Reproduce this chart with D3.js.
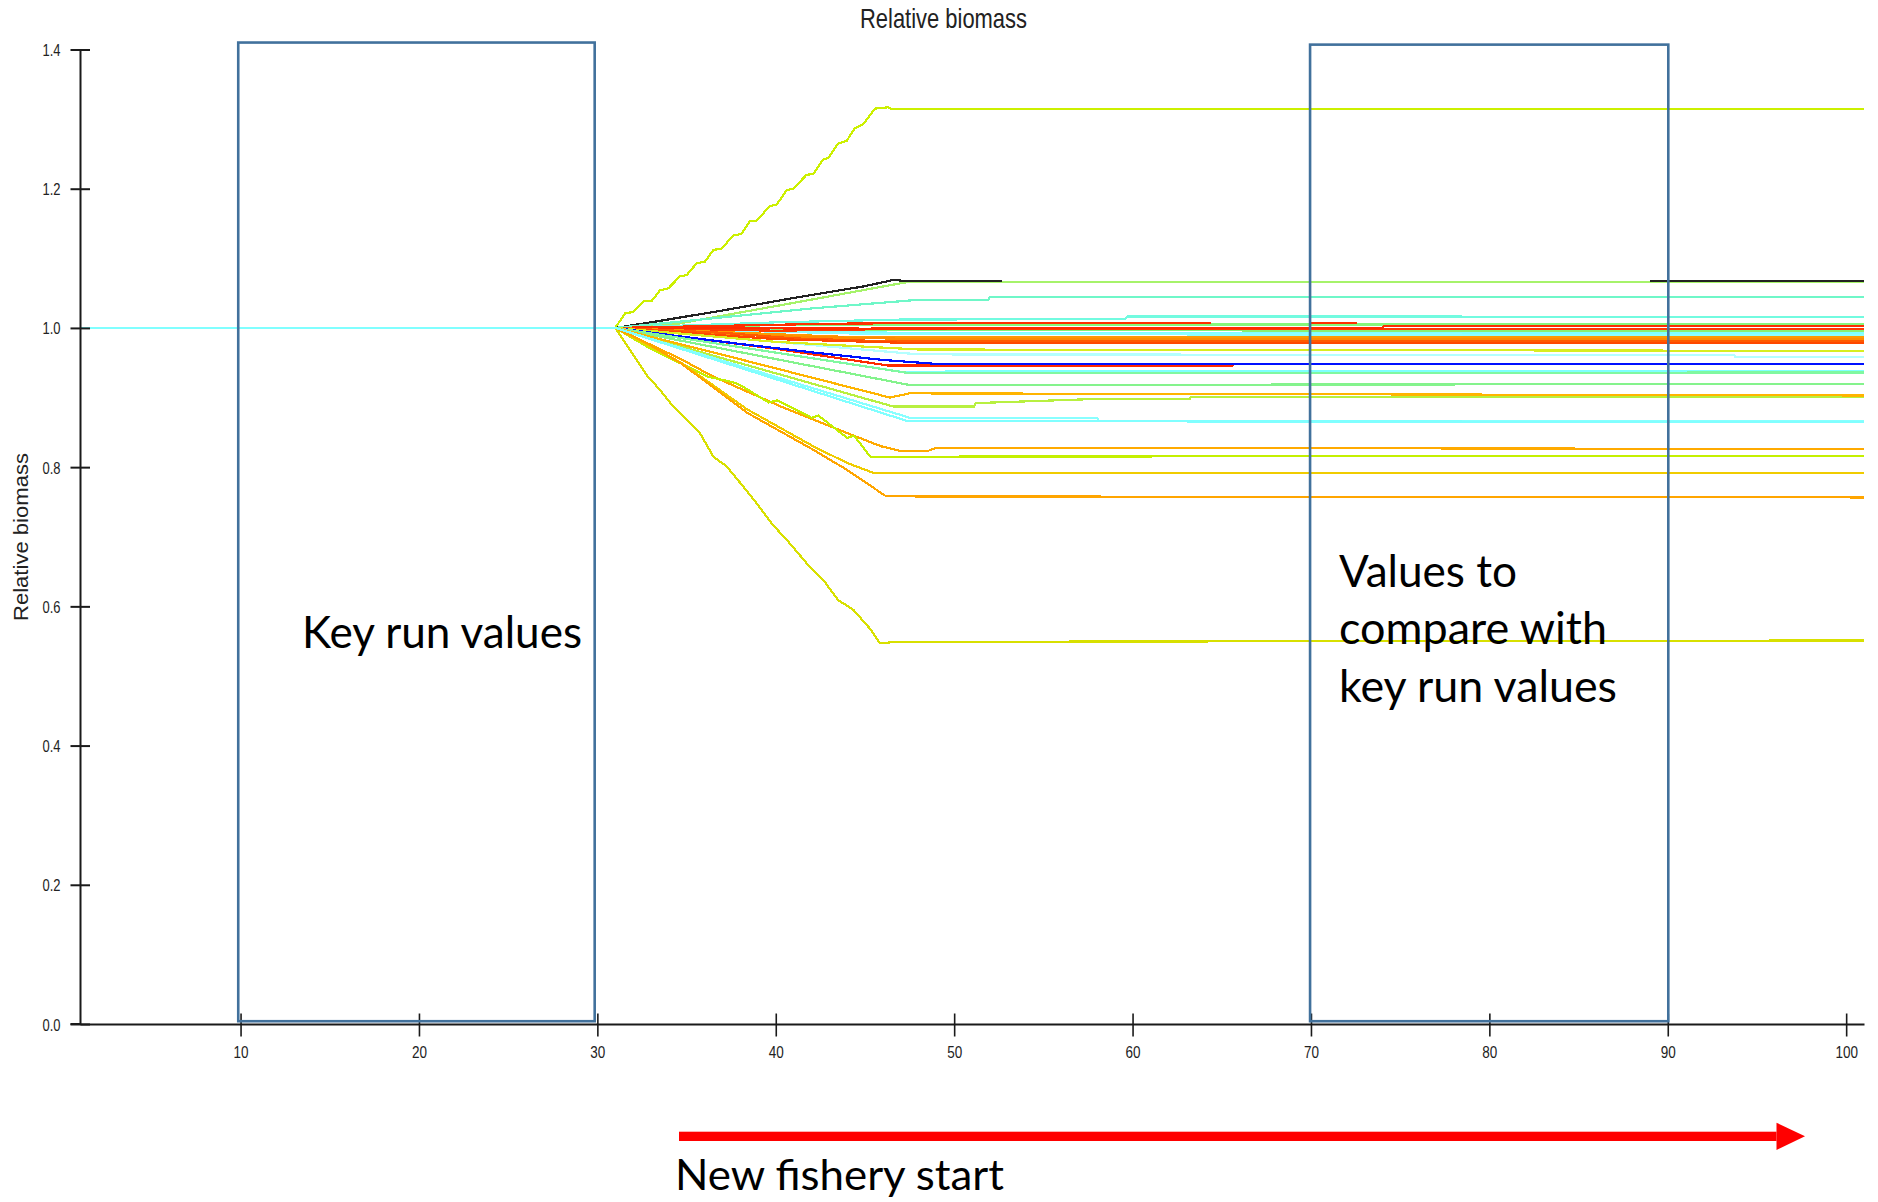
<!DOCTYPE html>
<html>
<head>
<meta charset="utf-8">
<script src="https://cdn.jsdelivr.net/npm/d3@7"></script>
<style>
  body { margin: 0; background: #fff; }
  svg { display: block; }
  .series path { fill: none; stroke-width: 2.2px; shape-rendering: crispEdges; }
</style>
</head>
<body>
<svg id="chart" width="1878" height="1202"></svg>
<script>
// ---- axis ticks ----
const xTickValues = [10, 20, 30, 40, 50, 60, 70, 80, 90, 100];
const yTickValues = [0, 0.2, 0.4, 0.6, 0.8, 1.0, 1.2, 1.4];

// ---- relative biomass per functional group: [year, value] (null = hidden) ----
const grpHighGain = [[1,1],[31,1],[31.55,1.021],[32.02,1.023],[32.58,1.038],[33.05,1.039],[33.51,1.054],[33.98,1.057],[34.63,1.074],[35.01,1.076],[35.57,1.093],[36.03,1.095],[36.5,1.112],[36.97,1.114],[37.62,1.133],[38.08,1.135],[38.55,1.153],[38.92,1.154],[39.67,1.175],[40.05,1.177],[40.61,1.198],[40.98,1.200],[41.73,1.220],[42.1,1.221],[42.66,1.242],[42.94,1.244],[43.5,1.265],[43.98,1.269],[44.44,1.287],[44.91,1.293],[45.56,1.315],[46.31,1.317],[46.5,1.314],[101,1.314]];
const grpGainGreen = [[1,1],[31,1],[34.5,1.006],[41,1.036],[47.4,1.066],[101,1.066]];
const grpGainBlack = [[1,1],[31,1],[33,1.008],[37,1.025],[41,1.043],[45,1.06],[46.6,1.069],[47.2,1.0675],[52.7,1.0675],[52.8,null],[89,1.0675],[101,1.0675]];
const grpGainAqua = [[1,1],[31,1],[35,1.01],[42,1.028],[47.8,1.040],[51.9,1.040],[52,1.044],[101,1.0445]];
const grpSlightGain = [[1,1],[31,1],[40,1.008],[47,1.012],[59.6,1.013],[59.7,1.0165],[101,1.016]];
const grpBandGreenTop = [[1,1],[31,1],[40,1.004],[48,1.005],[101,1.005]];
const grpBandGreenLow = [[1,1],[31,1],[45,0.997],[101,0.9955]];
const grpBandCyanA = [[1,1],[31,1],[48,0.9925],[101,0.9925]];
const grpBandCyanB = [[1,1],[31,1],[46,0.991],[101,0.990]];
const grpBandRedC = [[1,1],[31,1],[40,0.996],[48,0.999],[101,0.999]];
const grpBandRedB = [[1,1],[31,1],[45,0.999],[60,1.0],[74,1.0],[74.1,1.0025],[101,1.0025]];
const grpBandRedA = [[1,1],[31,1],[43,1.006],[48,1.007],[64.4,1.007],[64.5,null],[70,1.007],[72.6,1.007],[72.7,null]];
const grpBandOrangeA = [[1,1],[31,1],[38,0.993],[44,0.987],[48,0.9865],[101,0.9865]];
const grpBandOrangeB = [[1,1],[31,1],[40,0.988],[48,0.984],[101,0.9835]];
const grpBandRedOrangeA = [[1,1],[31,1],[37,0.993],[41,0.985],[46,0.981],[101,0.981]];
const grpBandRedOrangeB = [[1,1],[31,1],[40,0.984],[48,0.978],[101,0.978]];
const grpSmallLossYG = [[1,1],[31,1],[40,0.98],[48,0.969],[101,0.967]];
const grpSmallLossCyan = [[1,1],[31,1],[48,0.962],[93.7,0.961],[93.8,0.958],[101,0.958]];
const grpLossRed = [[1,1],[31,1],[40,0.97],[46.3,0.946],[65.6,0.9452],[65.7,0.9487],[101,0.9487]];
const grpLossBlue = [[1,1],[31,1],[34,0.99],[38,0.977],[42,0.965],[46,0.954],[48.8,0.9487],[101,0.9487]];
const grpLossCyan = [[1,1],[31,1],[47,0.937],[52,0.9375],[101,0.9386]];
const grpLossGreenA = [[1,1],[31,1],[47.5,0.935],[101,0.936]];
const grpLossGreenB = [[1,1],[31,1],[47.5,0.918],[101,0.9195]];
const grpLossOrange = [[1,1],[31,1],[38,0.955],[46.4,0.9],[47.5,0.906],[101,0.903]];
const grpLossYG = [[1,1],[31,1],[46.6,0.887],[51.1,0.887],[51.2,0.892],[58,0.898],[63.2,0.898],[63.3,0.901],[101,0.901]];
const grpMidOrange = [[1,1],[31,1],[34.7,0.955],[36.5,0.930],[40.3,0.887],[44,0.849],[45.9,0.830],[47,0.823],[48.5,0.823],[49,0.828],[101,0.826]];
const grpMidYG = [[1,1],[31,1],[33,0.97],[36.2,0.930],[37.6,0.922],[38,0.918],[39.6,0.893],[40.1,0.896],[42,0.871],[42.4,0.874],[44,0.842],[44.4,0.845],[45.3,0.815],[101,0.8165]];
const grpMidYellow = [[1,1],[31,1],[34.7,0.95],[38.4,0.883],[42.1,0.830],[44,0.806],[45.5,0.7916],[101,0.791]];
const grpLowOrange = [[1,1],[31,1],[32.8,0.978],[34.7,0.949],[38.4,0.878],[42.1,0.825],[44,0.796],[45.9,0.763],[46.2,0.758],[101,0.7565]];
const grpLowYellow = [[1,1],[31,1],[31.45,0.983],[32.02,0.961],[32.77,0.932],[33.51,0.911],[34.26,0.887],[35.01,0.868],[35.75,0.849],[36.5,0.815],[37.25,0.801],[38.18,0.772],[38.93,0.748],[39.77,0.719],[40.7,0.693],[41.73,0.662],[42.66,0.638],[43.5,0.609],[44.35,0.595],[45.28,0.568],[45.84,0.547],[46.78,0.549],[101,0.551]];
const grpCyanB = [[1,1],[31,1],[47.5,0.871],[58,0.871],[58.1,0.866],[101,0.866]];
const grpCyanA = [[1,1],[31,1],[47.4,0.866],[101,0.865]];

// drawing order (later entries are painted on top)
const series = [
  { data: grpHighGain,       color: "#ccf000" },
  { data: grpGainGreen,      color: "#a6f36a" },
  { data: grpGainBlack,      color: "#222222" },
  { data: grpGainAqua,       color: "#6ff7c8" },
  { data: grpSlightGain,     color: "#72fbe0" },
  { data: grpBandGreenTop,   color: "#86f77c" },
  { data: grpBandGreenLow,   color: "#8af070" },
  { data: grpBandCyanA,      color: "#80ffff" },
  { data: grpBandCyanB,      color: "#8cffff" },
  { data: grpBandRedC,       color: "#ff3a00" },
  { data: grpBandRedB,       color: "#ff2c00" },
  { data: grpBandRedA,       color: "#ff3000" },
  { data: grpBandOrangeA,    color: "#ff9900" },
  { data: grpBandOrangeB,    color: "#ff8c00" },
  { data: grpBandRedOrangeA, color: "#ff5a00" },
  { data: grpBandRedOrangeB, color: "#ff4800" },
  { data: grpSmallLossCyan,  color: "#b4ffff" },
  { data: grpSmallLossYG,    color: "#d8ee20" },
  { data: grpLossRed,        color: "#ff2a00" },
  { data: grpLossBlue,       color: "#0010ff" },
  { data: grpLossCyan,       color: "#80ffff" },
  { data: grpLossGreenA,     color: "#80f8a0" },
  { data: grpLossGreenB,     color: "#84f38c" },
  { data: grpLossYG,         color: "#b8f040" },
  { data: grpLossOrange,     color: "#ffb400" },
  { data: grpMidOrange,      color: "#ffaa00" },
  { data: grpMidYG,          color: "#c4f000" },
  { data: grpMidYellow,      color: "#f0cc00" },
  { data: grpLowOrange,      color: "#ffa500" },
  { data: grpLowYellow,      color: "#d8e000" },
  { data: grpCyanB,          color: "#88ffff" },
  { data: grpCyanA,          color: "#80ffff" }
];

// annotation spans (years) and box heights (relative biomass)
const keyRunSpan = [9.87, 29.85];
const compareSpan = [69.95, 90.03];
const keyRunBox = [0.004, 1.41];
const compareBox = [0.004, 1.407];

const svg = d3.select("#chart");
const x = d3.scaleLinear().domain([1, 101]).range([80, 1864]);
const y = d3.scaleLinear().domain([0, 1.4]).range([1024, 49.5]);

// ---- series lines ----
const line = d3.line()
  .defined(d => d[1] != null)
  .x(d => x(d[0]))
  .y(d => y(d[1]));

svg.append("g").attr("class", "series")
  .selectAll("path")
  .data(series)
  .join("path")
  .attr("d", d => line(d.data))
  .attr("stroke", d => d.color);

// ---- axes ----
const axisColor = "#1a1a1a";
const yAxis = svg.append("g")
  .attr("transform", "translate(80,0)")
  .call(d3.axisLeft(y).tickValues(yTickValues).tickFormat(d3.format(".1f")).tickSizeOuter(0));
yAxis.select(".domain").attr("stroke", axisColor).attr("stroke-width", 2);
yAxis.selectAll(".tick line").attr("x1", -9.5).attr("x2", 10).attr("stroke", axisColor).attr("stroke-width", 2);
yAxis.selectAll(".tick text")
  .attr("x", -19.5).attr("dy", 0).attr("y", 6)
  .attr("fill", "#222")
  .style("font-family", "'Liberation Sans', Arial, sans-serif")
  .style("font-size", "17px")
  .attr("textLength", 18).attr("lengthAdjust", "spacingAndGlyphs");

const xAxis = svg.append("g")
  .attr("transform", "translate(0,1024)")
  .call(d3.axisBottom(x).tickValues(xTickValues).tickFormat(d3.format("d")).tickSizeOuter(0));
xAxis.select(".domain").attr("stroke", axisColor).attr("stroke-width", 2);
xAxis.selectAll(".tick line").attr("y1", -10.5).attr("y2", 12.5).attr("stroke", axisColor).attr("stroke-width", 1.6);
xAxis.selectAll(".tick text")
  .attr("y", 34.3).attr("dy", 0)
  .attr("fill", "#222")
  .style("font-family", "'Liberation Sans', Arial, sans-serif")
  .style("font-size", "16px")
  .attr("textLength", d => d >= 100 ? 22.5 : 15).attr("lengthAdjust", "spacingAndGlyphs");
// extend the x axis line left under the y ticks
svg.append("line")
  .attr("x1", 70.5).attr("x2", 80).attr("y1", 1024).attr("y2", 1024)
  .attr("stroke", axisColor).attr("stroke-width", 2);

// ---- titles ----
svg.append("text")
  .attr("x", 860).attr("y", 28.3)
  .attr("fill", "#222")
  .style("font-family", "'Liberation Sans', Arial, sans-serif")
  .style("font-size", "28px")
  .attr("textLength", 167).attr("lengthAdjust", "spacingAndGlyphs")
  .text("Relative biomass");

svg.append("text")
  .attr("transform", "translate(28.3,537) rotate(-90)")
  .attr("text-anchor", "middle")
  .attr("fill", "#222")
  .style("font-family", "'Liberation Sans', Arial, sans-serif")
  .style("font-size", "20px")
  .attr("textLength", 168).attr("lengthAdjust", "spacingAndGlyphs")
  .text("Relative biomass");

// ---- annotation boxes ----
const boxColor = "#41719c";
[[keyRunSpan, keyRunBox], [compareSpan, compareBox]].forEach(([span, range]) => {
  svg.append("rect")
    .attr("x", x(span[0])).attr("y", y(range[1]))
    .attr("width", x(span[1]) - x(span[0]))
    .attr("height", y(range[0]) - y(range[1]))
    .attr("fill", "none")
    .attr("stroke", boxColor)
    .attr("stroke-width", 2.6);
});

// ---- annotation text ----
const noteFont = "Lato, 'Open Sans', sans-serif";
function note(xPos, yPos, len, size, str) {
  svg.append("text")
    .attr("x", xPos).attr("y", yPos)
    .attr("fill", "#000")
    .style("font-family", noteFont)
    .style("font-size", size + "px")
    .attr("textLength", len).attr("lengthAdjust", "spacingAndGlyphs")
    .text(str);
}
note(302, 648, 280, 45, "Key run values");
note(1339, 587, 178, 45, "Values to");
note(1339, 644, 268, 45, "compare with");
note(1339, 702, 278, 45, "key run values");

// ---- fishery arrow ----
svg.append("rect")
  .attr("x", 679).attr("y", 1131.7)
  .attr("width", 1776.5 - 679).attr("height", 9.3)
  .attr("fill", "#ff0000");
svg.append("path")
  .attr("d", "M1776.5,1122.7 L1805,1136.3 L1776.5,1150 Z")
  .attr("fill", "#ff0000");
note(675, 1190, 329, 42, "New fishery start");
</script>
</body>
</html>
